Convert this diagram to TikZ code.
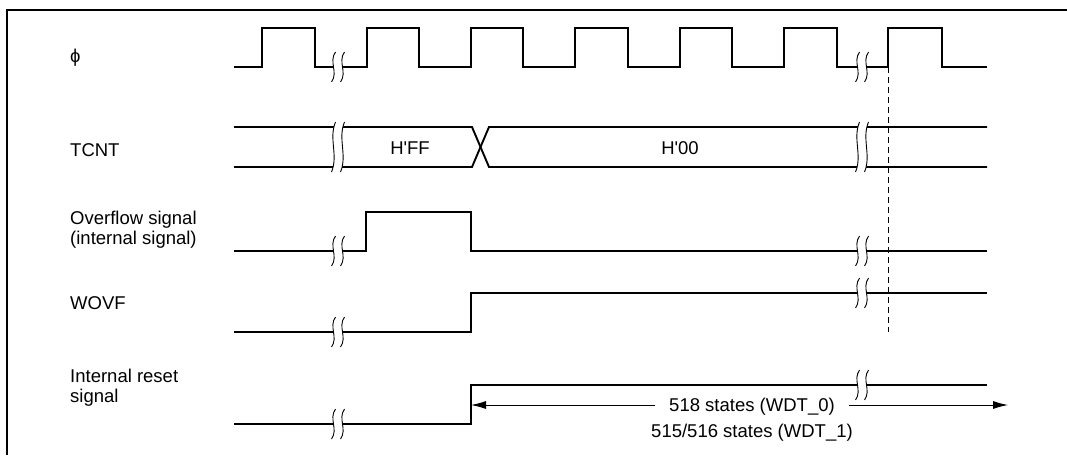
\documentclass[tikz,border=0pt]{standalone}
\usepackage{fontspec}
\setmainfont{Liberation Sans}
\newfontfamily\hexfont{Liberation Sans}
\usetikzlibrary{arrows.meta}
% one S-shaped break curve centred at (#1,#2), half height #3
\newcommand\Scurve[3]{(#1+2,#2-#3) .. controls (#1-5,#2-#3/3) and (#1+5,#2+#3/3) .. (#1-2,#2+#3)}
\newcommand\ScurveRev[3]{(#1-2,#2+#3) .. controls (#1+5,#2+#3/3) and (#1-5,#2-#3/3) .. (#1+2,#2-#3)}
\newcommand\Brk[3]{%
  \fill[white] \Scurve{#1-4.5}{#2}{#3} -- \ScurveRev{#1+4.5}{#2}{#3} -- cycle;
  \draw[brkline] \Scurve{#1-4.5}{#2}{#3};
  \draw[brkline] \Scurve{#1+4.5}{#2}{#3};
}
\begin{document}
\begin{tikzpicture}[x=1pt,y=-1pt,
  sig/.style={line width=1.9pt,line join=miter},
  brkline/.style={line width=0.9pt},
  lbl/.style={anchor=west,inner sep=0pt,align=left,font=\fontsize{18.5}{20}\selectfont},
  val/.style={inner sep=0pt,font=\fontsize{18.5}{20}\selectfont},
  frame/.style={line width=1.6pt},
  dim/.style={line width=0.9pt},
  tip/.style={-{Latex[length=15pt,width=8pt]}}]
\useasboundingbox (0,0) rectangle (1067,455);
% frame
\draw[frame] (7,455) -- (7,10) -- (1067,10);
% labels
\node[lbl] (lphi) at (70,58) {ϕ};
\node[lbl] (ltcnt) at (70,150) {TCNT};
\node[lbl] (lovf) at (70,230) {Overflow signal\\(internal signal)};
\node[lbl] (lwovf) at (70,303) {WOVF};
\node[lbl] (lrst) at (70,388) {Internal reset\\signal};
% phi clock
\draw[sig] (234,67) -- (262,67) -- (262,28) -- (315,28) -- (315,67) -- (367,67) -- (367,28) -- (419,28)
  -- (419,67) -- (471,67) -- (471,28) -- (523,28) -- (523,67) -- (575,67) -- (575,28) -- (628,28)
  -- (628,67) -- (680,67) -- (680,28) -- (732,28) -- (732,67) -- (784,67) -- (784,28) -- (837,28)
  -- (837,67) -- (888,67) -- (888,28) -- (942,28) -- (942,67) -- (987,67);
\Brk{338}{67}{15}
\Brk{862}{67}{15}
% TCNT
\draw[sig] (234,127) -- (472,127) -- (489,167) -- (987,167);
\draw[sig] (234,167) -- (472,167) -- (489,127) -- (987,127);
\Brk{338}{147}{25}
\Brk{862}{147}{25}
\node[val] (vff) at (410,148) {\hexfont H'FF};
\node[val] (v00) at (680,148) {\hexfont H'00};
% overflow
\draw[sig] (234,251) -- (366,251) -- (366,212) -- (471,212) -- (471,251) -- (987,251);
\Brk{338}{251}{15}
\Brk{862}{251}{15}
% WOVF
\draw[sig] (234,332) -- (471,332) -- (471,293) -- (987,293);
\Brk{338}{332}{15}
\Brk{862}{293}{15}
% reset
\draw[sig] (234,424) -- (471,424) -- (471,385) -- (987,385);
\Brk{338}{424}{15}
\Brk{862}{385}{15}
% dashed marker
\draw[dim,dash pattern=on 6pt off 4pt] (888,67) -- (888,332);
% dimension
\coordinate (al) at (471,405);
\coordinate (ar) at (1008,405);
\node[val,inner xsep=14pt] (d1) at (752,407) {518 states (WDT\_0)};
\node[val] (d2) at (752,433) {515/516 states (WDT\_1)};
\draw[dim,tip] (d1.west |- al) -- (al);
\draw[dim,tip] (d1.east |- ar) -- (ar);
\end{tikzpicture}
\end{document}
